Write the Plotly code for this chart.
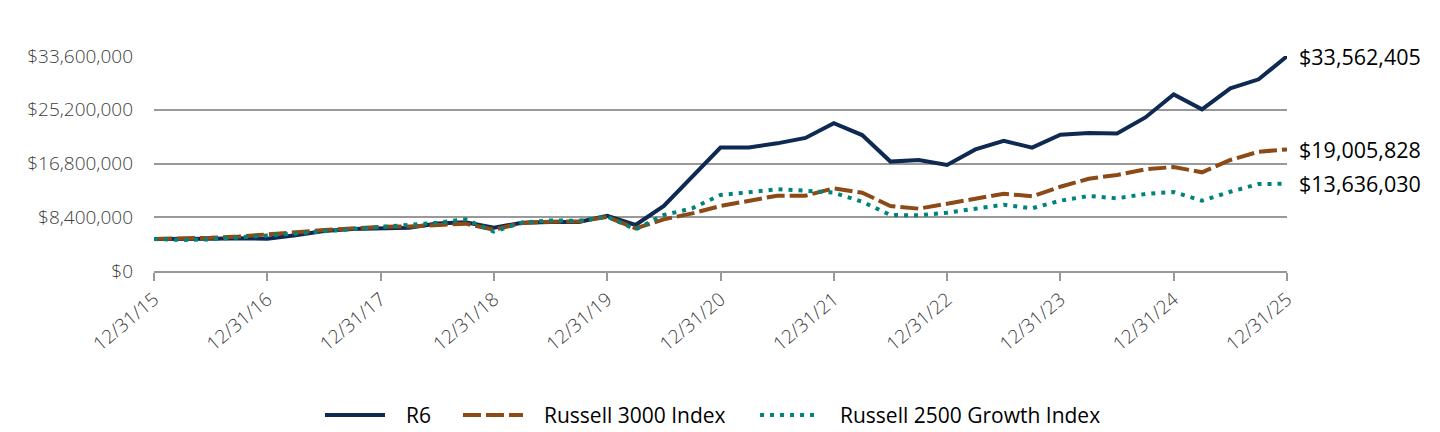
import plotly.graph_objects as go

quarters = list(range(41))
tick_positions = [0, 4, 8, 12, 16, 20, 24, 28, 32, 36, 40]
tick_labels = ["12/31/15", "12/31/16", "12/31/17", "12/31/18", "12/31/19", "12/31/20",
               "12/31/21", "12/31/22", "12/31/23", "12/31/24", "12/31/25"]

r6 = [5.00, 4.95, 5.05, 5.10, 5.05, 5.60, 6.25, 6.55, 6.60, 6.77, 7.42, 7.60, 6.77,
      7.55, 7.65, 7.65, 8.64, 7.19, 10.16, 14.70, 19.30, 19.30, 19.95, 20.80, 23.10,
      21.25, 17.10, 17.35, 16.57, 19.00, 20.36, 19.27, 21.30, 21.57, 21.50, 24.00,
      27.60, 25.27, 28.55, 29.96, 33.562405]
r3000 = [5.00, 5.05, 5.20, 5.40, 5.65, 6.05, 6.40, 6.70, 6.90, 6.95, 7.15, 7.40, 6.45,
         7.50, 7.70, 7.75, 8.45, 6.67, 8.07, 9.00, 10.16, 10.94, 11.77, 11.77, 12.92,
         12.24, 10.16, 9.74, 10.47, 11.30, 12.08, 11.67, 13.17, 14.42, 15.00, 15.89,
         16.25, 15.42, 17.35, 18.64, 19.005828]
r2500g = [5.00, 4.85, 4.95, 5.20, 5.50, 5.85, 6.20, 6.50, 6.90, 7.24, 7.55, 8.07, 6.15,
          7.60, 7.90, 7.85, 8.50, 6.50, 8.75, 9.80, 11.88, 12.30, 12.77, 12.55, 12.24,
          10.83, 8.75, 8.70, 9.11, 9.74, 10.36, 9.80, 10.99, 11.72, 11.36, 12.03, 12.35,
          10.99, 12.39, 13.60, 13.63603]

y_ticks = [0, 8400000, 16800000, 25200000, 33600000]
y_tick_labels = ["$0", "$8,400,000", "$16,800,000", "$25,200,000", "$33,600,000"]
end_labels = ["$33,562,405", "$19,005,828", "$13,636,030"]

names = ["R6", "Russell 3000 Index", "Russell 2500 Growth Index"]
colors = ["#0e2a52", "#8c4a17", "#00837a"]
dashes = ["solid", "18px,5px", "4px,6px"]
series = [r6, r3000, r2500g]

fig = go.Figure()
for name, vals, color, dash in zip(names, series, colors, dashes):
    fig.add_trace(go.Scatter(
        x=quarters, y=[v * 1e6 for v in vals], mode="lines", name=name,
        showlegend=False, line=dict(color=color, width=4, dash=dash)))

for txt, vals in zip(end_labels, series):
    fig.add_annotation(x=quarters[-1], y=vals[-1] * 1e6, xref="x", yref="y", text=txt,
                       showarrow=False, xanchor="left", yanchor="middle", xshift=10,
                       font=dict(family="Open Sans", size=21.5, color="#000000"))

# custom legend (paper coordinates)
leg_y = -0.67
leg_samples = [(0.1509, 0.2039), (0.2727, 0.3257), (0.5349, 0.5878)]
leg_text_x = [0.2207, 0.3425, 0.6037]
for (x0, x1), tx, name, color, dash in zip(leg_samples, leg_text_x, names, colors, dashes):
    fig.add_shape(type="line", xref="paper", yref="paper", x0=x0, x1=x1, y0=leg_y, y1=leg_y,
                  line=dict(color=color, width=4, dash=dash))
    fig.add_annotation(x=tx, y=leg_y, xref="paper", yref="paper", text=name, showarrow=False,
                       xanchor="left", yanchor="middle",
                       font=dict(family="Open Sans", size=21, color="#000000"))

fig.update_layout(
    width=1432, height=424,
    margin=dict(l=146, r=153, t=48, b=161),
    paper_bgcolor="white", plot_bgcolor="white",
    font=dict(family="Open Sans", color="#404040"),
    showlegend=False,
)
fig.update_xaxes(
    range=[0, 40], tickvals=tick_positions, ticktext=tick_labels, tickangle=-40,
    automargin=False,
    showgrid=False, zeroline=False, showline=True, linecolor="#999999", linewidth=2,
    ticks="outside", ticklen=8, tickwidth=2, tickcolor="#999999",
    tickfont=dict(family="Open Sans", size=19, color="#404040", weight=300))
fig.update_yaxes(
    range=[0, 33600000], tickvals=y_ticks, ticktext=y_tick_labels, automargin=False,
    showgrid=True, gridcolor="#999999", gridwidth=2, zeroline=False, showline=False,
    ticks="", ticklabelstandoff=20,
    tickfont=dict(family="Open Sans", size=19, color="#404040", weight=300))

fig.write_html("out.html")
